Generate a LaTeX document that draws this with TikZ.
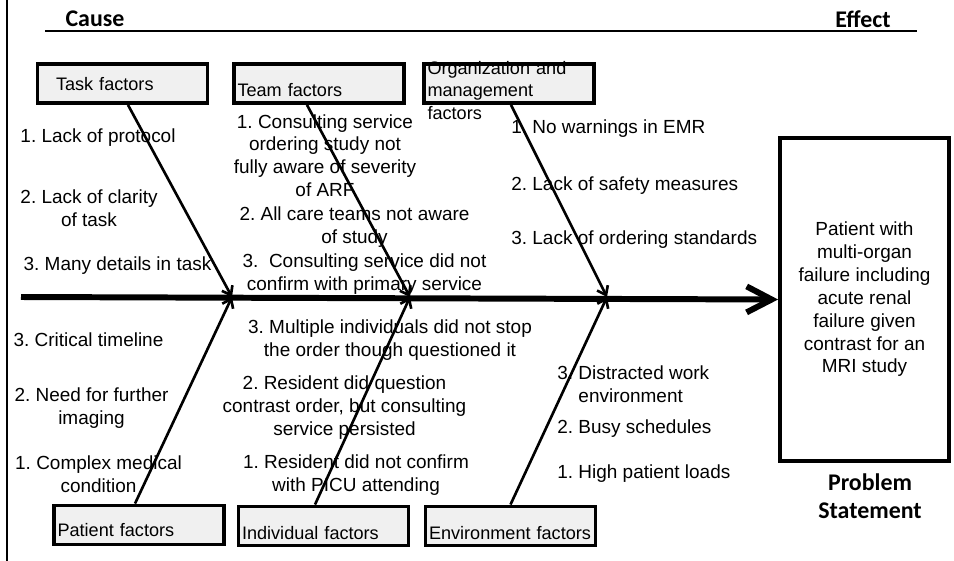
\documentclass[tikz,border=0pt]{standalone}
\usepackage{fontspec}
\setmainfont{Liberation Sans}
\newfontfamily\headfont{Carlito}
\usetikzlibrary{arrows.meta,positioning}
\definecolor{boxfill}{HTML}{F0F0F0}
\frenchspacing

\begin{document}
\begin{tikzpicture}[x=0.02cm,y=-0.02cm,
    factor/.style={draw,line width=2.2pt,fill=boxfill,minimum width=3.4cm,minimum height=0.78cm,
      inner xsep=0.07cm,inner ysep=0pt,text width=3.26cm,align=left,text depth=0pt,
      font=\fontsize{10.3}{12.8}\selectfont},
    low/.style={text height=0.53cm},
    item/.style={inner sep=0pt,align=center,font=\fontsize{10.8}{13}\selectfont},
    bone/.style={line width=1.5pt,-{Straight Barb[length=0.16cm,width=0.24cm]}},
    heading/.style={inner sep=0pt,align=center,font=\headfont\bfseries\fontsize{13.6}{16.4}\selectfont}]
  \useasboundingbox (0,0) rectangle (954,561);
  \draw[line width=1.7pt] (7,0) -- (7,561);
  \draw[line width=1.7pt] (45,31) -- (917,31);
  \node[heading] (cause) at (95,19) {Cause};
  \node[heading] (effect) at (863,19) {Effect};

  \node[factor,text height=0.28cm] (task) at (122.5,83.5) {\hspace*{0.3cm}Task factors};
  \node[factor,low] (team) at (319,83.5) {Team factors};
  \node[factor,text height=0pt,text depth=0.36cm] (org) at (509,83.5) {Organization and\\management\\factors};
  \node[factor,text height=0.46cm] (patient) at (139,525) {Patient factors};
  \node[factor,text height=0.54cm] (indiv) at (323.5,526) {Individual factors};
  \node[factor,text height=0.54cm] (env) at (510.5,526) {Environment~factors};

  \node[item,draw,line width=2.2pt,minimum width=3.38cm,minimum height=6.46cm] (problem) at (864.5,299.5)
    {Patient with\\multi-organ\\failure including\\acute renal\\failure given\\contrast for an\\MRI study};
  \node[heading,below=0.2cm of problem,xshift=0.11cm] (statement) {Problem\\Statement};

  \coordinate (tail) at (21,297);
  \coordinate (j1) at (232,297);
  \coordinate (j2) at (410,297);
  \coordinate (j3) at (607,297);
  \draw[line width=3.4pt,-{Straight Barb[length=0.5cm,width=0.52cm]}] (tail) -- (problem.west);

  \node[item] (t1) at (98,138) {1. Lack of protocol};
  \node[item] (t2) at (89,208) {2. Lack of clarity\\of task};
  \node[item] (t3) at (117.5,266) {3. Many details in task};
  \node[item] (m1) at (325,155.5) {1. Consulting service\\ordering study not\\fully aware of severity\\of ARF};
  \node[item] (m2) at (354.5,227) {2. All care teams not aware\\of study};
  \node[item] (m3) at (364.5,274) {3.~ Consulting service did not\\confirm with primary service};
  \node[item,anchor=west] (o1) at (511,129) {1. No warnings in EMR};
  \node[item,anchor=west] (o2) at (511,186) {2. Lack of safety measures};
  \node[item,anchor=west] (o3) at (511,240) {3. Lack of ordering standards};

  \node[item] (p3) at (88.5,340) {3. Critical timeline};
  \node[item] (p2) at (91.5,408) {2. Need for further\\imaging};
  \node[item] (p1) at (98.5,474.5) {1. Complex medical\\condition};
  \node[item] (i3) at (390,340.5) {3. Multiple individuals did not stop\\the order though questioned it};
  \node[item] (i2) at (344.5,407.5) {2. Resident did question\\contrast order, but consulting\\service persisted};
  \node[item] (i1) at (356,475) {1. Resident did not confirm\\with PICU attending};
  \node[item,anchor=west,align=left] (e3) at (557,384.5) {3. Distracted work\\\hphantom{3. }environment};
  \node[item,anchor=west] (e2) at (557,429) {2. Busy schedules};
  \node[item,anchor=west] (e1) at (557,474) {1. High patient loads};

  \draw[bone] ([xshift=0.11cm]task.south) -- (j1);
  \draw[bone] ([xshift=-0.24cm]team.south) -- (j2);
  \draw[bone] ([xshift=0.04cm]org.south) -- (j3);
  \draw[bone] ([xshift=-0.08cm]patient.north) -- (j1);
  \draw[bone] ([xshift=-0.17cm]indiv.north) -- (j2);
  \draw[bone] (env.north) -- (j3);
\end{tikzpicture}
\end{document}
